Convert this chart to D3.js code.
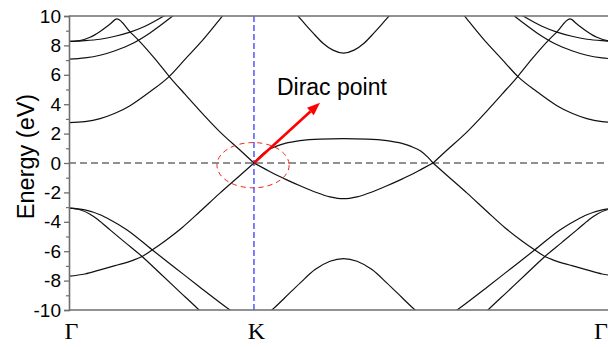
<!DOCTYPE html>
<html>
<head>
<meta charset="utf-8">
<script src="https://cdn.jsdelivr.net/npm/d3@7"></script>
<style>
  html, body { margin: 0; padding: 0; background: #fff; }
  svg { display: block; }
</style>
</head>
<body>
<svg id="chart" width="608" height="347"></svg>
<script>
// High-symmetry points along the k-path (distance Γ–K taken as 1)
const kPointLabels = ["Γ", "K", "Γ"];
const kPointPositions = [0, 1, 2.968];

// Energy axis ticks (eV)
const energyMajorTicks = [-10, -8, -6, -4, -2, 0, 2, 4, 6, 8, 10];
const energyMinorTicks = [-9, -7, -5, -3, -1, 1, 3, 5, 7, 9];

// Band branches as [k, E(eV)] pairs
const bandLowerLeft = [[0,-7.70],[0.086,-7.55],[0.168,-7.27],[0.249,-6.98],[0.346,-6.62],[0.395,-6.36],[0.449,-5.92],[0.519,-5.30],[0.611,-4.40],[0.708,-3.30],[0.816,-2.05],[0.924,-0.85],[1,0]];
const bandLowerRight = [[1.968,0],[2.044,-0.85],[2.152,-2.05],[2.260,-3.30],[2.357,-4.40],[2.449,-5.30],[2.519,-5.92],[2.573,-6.36],[2.622,-6.62],[2.719,-6.98],[2.800,-7.27],[2.882,-7.55],[2.968,-7.70]];

const bandPeakLeft = [[0,8.27],[0.059,8.33],[0.114,8.55],[0.168,8.95],[0.222,9.45],[0.259,9.80],[0.330,8.92],[0.384,8.24],[0.465,7.08],[0.541,5.90],[0.627,4.68],[0.708,3.55],[0.762,2.82],[0.816,2.12],[0.924,0.88],[1,0]];
const bandPeakRight = [[1.968,0],[2.044,0.88],[2.152,2.12],[2.206,2.82],[2.260,3.55],[2.341,4.68],[2.427,5.90],[2.503,7.08],[2.584,8.24],[2.638,8.92],[2.709,9.80],[2.746,9.45],[2.800,8.95],[2.854,8.55],[2.909,8.33],[2.968,8.27]];

const bandTopA_Left = [[0,8.27],[0.086,8.32],[0.168,8.42],[0.249,8.62],[0.330,8.90],[0.411,9.30],[0.508,9.96],[0.546,10.25]];
const bandTopA_Right = [[2.422,10.25],[2.460,9.96],[2.557,9.30],[2.638,8.90],[2.719,8.62],[2.800,8.42],[2.882,8.32],[2.968,8.27]];

const bandTopB_Left = [[0,7.06],[0.086,7.15],[0.168,7.33],[0.249,7.64],[0.346,8.15],[0.438,8.85],[0.557,9.96],[0.589,10.28]];
const bandTopB_Right = [[2.379,10.28],[2.411,9.96],[2.530,8.85],[2.622,8.15],[2.719,7.64],[2.800,7.33],[2.882,7.15],[2.968,7.06]];

const bandMid_Left = [[0,2.75],[0.086,2.82],[0.168,3.02],[0.249,3.38],[0.330,3.90],[0.438,4.85],[0.541,5.88],[0.627,7.05],[0.708,8.15],[0.827,9.96],[0.859,10.45]];
const bandMid_Right = [[2.109,10.45],[2.141,9.96],[2.260,8.15],[2.341,7.05],[2.427,5.88],[2.530,4.85],[2.638,3.90],[2.719,3.38],[2.800,3.02],[2.882,2.82],[2.968,2.75]];

const bandDeepA_Left = [[0,-3.07],[0.059,-3.18],[0.114,-3.48],[0.157,-3.86],[0.222,-4.55],[0.303,-5.40],[0.395,-6.36],[0.492,-7.50],[0.600,-8.78],[0.703,-10.0],[0.735,-10.4]];
const bandDeepA_Right = [[2.233,-10.4],[2.265,-10.0],[2.368,-8.78],[2.476,-7.50],[2.573,-6.36],[2.665,-5.40],[2.746,-4.55],[2.811,-3.86],[2.854,-3.48],[2.909,-3.18],[2.968,-3.07]];

const bandDeepB_Left = [[0,-3.07],[0.086,-3.19],[0.168,-3.52],[0.222,-3.86],[0.314,-4.55],[0.449,-5.90],[0.573,-7.12],[0.708,-8.45],[0.870,-10.0],[0.903,-10.3]];
const bandDeepB_Right = [[2.065,-10.3],[2.098,-10.0],[2.260,-8.45],[2.395,-7.12],[2.519,-5.90],[2.654,-4.55],[2.746,-3.86],[2.800,-3.52],[2.882,-3.19],[2.968,-3.07]];

const bandPlateauUpper = [[1,0],[1.027,0.38],[1.065,0.80],[1.119,1.13],[1.168,1.33],[1.249,1.52],[1.357,1.63],[1.484,1.66],[1.611,1.63],[1.719,1.52],[1.800,1.33],[1.849,1.13],[1.903,0.80],[1.941,0.38],[1.968,0]];
const bandPlateauLower = [[1,0],[1.059,-0.40],[1.119,-0.80],[1.195,-1.25],[1.249,-1.55],[1.330,-1.97],[1.411,-2.30],[1.484,-2.43],[1.557,-2.30],[1.638,-1.97],[1.719,-1.55],[1.773,-1.25],[1.849,-0.80],[1.909,-0.40],[1.968,0]];

const bandArch = [[1.205,10.45],[1.238,10.0],[1.276,9.45],[1.319,8.85],[1.373,8.15],[1.427,7.68],[1.484,7.48],[1.541,7.68],[1.595,8.15],[1.649,8.85],[1.692,9.45],[1.730,10.0],[1.763,10.45]];
const bandHump = [[1.054,-10.45],[1.097,-10.0],[1.168,-9.15],[1.249,-8.17],[1.330,-7.25],[1.411,-6.68],[1.484,-6.50],[1.557,-6.68],[1.638,-7.25],[1.719,-8.17],[1.800,-9.15],[1.871,-10.0],[1.914,-10.45]];

const bandBranches = [
  bandLowerLeft, bandLowerRight, bandPeakLeft, bandPeakRight,
  bandTopA_Left, bandTopA_Right, bandTopB_Left, bandTopB_Right,
  bandMid_Left, bandMid_Right, bandDeepA_Left, bandDeepA_Right,
  bandDeepB_Left, bandDeepB_Right, bandPlateauUpper, bandPlateauLower,
  bandArch, bandHump
];

// Annotation: Dirac point at K, arrow and highlight ellipse (data units)
const diracPoint = [1, 0];
const arrowTip = [1.357, 4.1];
const annotationText = "Dirac point";
const annotationAnchor = [1.124, 4.64];
const ellipseCenter = [0.995, -0.15];
const ellipseRadii = [0.195, 1.54];

// ---- drawing ----
const W = 608, H = 347;
const svg = d3.select("#chart");

const x = d3.scaleLinear().domain([0, 2.968]).range([69, 618]);
const y = d3.scaleLinear().domain([-10, 10]).range([310, 16]);

svg.append("rect").attr("width", W).attr("height", H).attr("fill", "#fff");

svg.append("defs").append("clipPath").attr("id", "plotClip")
  .append("rect")
  .attr("x", x(0)).attr("y", y(10))
  .attr("width", x(2.968) - x(0)).attr("height", y(-10) - y(10));

const plot = svg.append("g").attr("clip-path", "url(#plotClip)");

// Fermi level
plot.append("line")
  .attr("x1", x(0)).attr("x2", x(2.968))
  .attr("y1", y(0)).attr("y2", y(0))
  .attr("stroke", "#222").attr("stroke-width", 1)
  .attr("stroke-dasharray", "7,4");

// K point marker
plot.append("line")
  .attr("x1", x(kPointPositions[1])).attr("x2", x(kPointPositions[1]))
  .attr("y1", y(10)).attr("y2", y(-10))
  .attr("stroke", "#2a2aff").attr("stroke-width", 1.2)
  .attr("stroke-dasharray", "6,3");

// Bands
const line = d3.line()
  .x(d => x(d[0]))
  .y(d => y(d[1]))
  .curve(d3.curveMonotoneX);

plot.selectAll("path.band")
  .data(bandBranches)
  .join("path")
  .attr("class", "band")
  .attr("d", line)
  .attr("fill", "none")
  .attr("stroke", "#111")
  .attr("stroke-width", 1.2);

// Highlight ellipse around the Dirac point
plot.append("ellipse")
  .attr("cx", x(ellipseCenter[0])).attr("cy", y(ellipseCenter[1]))
  .attr("rx", x(ellipseRadii[0]) - x(0))
  .attr("ry", y(0) - y(ellipseRadii[1]))
  .attr("fill", "none")
  .attr("stroke", "#f02020").attr("stroke-width", 1)
  .attr("stroke-dasharray", "5,4");

// Arrow
const ax0 = x(diracPoint[0]), ay0 = y(diracPoint[1]);
const ax1 = x(arrowTip[0]), ay1 = y(arrowTip[1]);
const ang = Math.atan2(ay1 - ay0, ax1 - ax0);
const headLen = 13, headHalf = 5;
const bx = ax1 - headLen * Math.cos(ang), by = ay1 - headLen * Math.sin(ang);
svg.append("line")
  .attr("x1", ax0).attr("y1", ay0).attr("x2", bx).attr("y2", by)
  .attr("stroke", "#ff0000").attr("stroke-width", 2.6);
svg.append("path")
  .attr("d", `M${ax1},${ay1} L${bx + headHalf * Math.sin(ang)},${by - headHalf * Math.cos(ang)} L${bx - headHalf * Math.sin(ang)},${by + headHalf * Math.cos(ang)} Z`)
  .attr("fill", "#ff0000");

svg.append("text")
  .attr("x", x(annotationAnchor[0])).attr("y", y(annotationAnchor[1]))
  .attr("font-family", "Liberation Sans, Arial, sans-serif")
  .attr("font-size", 23)
  .attr("fill", "#000")
  .text(annotationText);

// Frame lines
const frameColor = "#6e6e6e";
svg.append("line")
  .attr("x1", x(0)).attr("x2", W).attr("y1", y(10)).attr("y2", y(10))
  .attr("stroke", frameColor).attr("stroke-width", 1.6);
svg.append("line")
  .attr("x1", x(0)).attr("x2", W).attr("y1", y(-10)).attr("y2", y(-10))
  .attr("stroke", frameColor).attr("stroke-width", 1.6);

// Y axis
const yAxis = svg.append("g").attr("transform", `translate(${x(0)},0)`)
  .call(d3.axisLeft(y).tickValues(energyMajorTicks).tickSize(5).tickPadding(3).tickFormat(d => String(d)));
yAxis.select(".domain").attr("stroke", frameColor).attr("stroke-width", 1.6);
yAxis.selectAll(".tick line").attr("stroke", frameColor).attr("stroke-width", 1.3);
yAxis.selectAll(".tick text")
  .attr("font-family", "Liberation Sans, Arial, sans-serif")
  .attr("font-size", 19).attr("fill", "#000");

const yMinor = svg.append("g").attr("transform", `translate(${x(0)},0)`)
  .call(d3.axisLeft(y).tickValues(energyMinorTicks).tickSize(3).tickFormat(""));
yMinor.select(".domain").remove();
yMinor.selectAll(".tick line").attr("stroke", frameColor).attr("stroke-width", 1.2);

// Y axis title
svg.append("text")
  .attr("transform", `translate(33.5,156.5) rotate(-90)`)
  .attr("text-anchor", "middle")
  .attr("font-family", "Liberation Sans, Arial, sans-serif")
  .attr("font-size", 23.5)
  .attr("fill", "#000")
  .text("Energy (eV)");

// k-path labels
svg.selectAll("text.kpt")
  .data(kPointLabels)
  .join("text")
  .attr("class", "kpt")
  .attr("x", (d, i) => Math.min(x(kPointPositions[i]) + 2.5, W - 7))
  .attr("y", 339)
  .attr("text-anchor", "middle")
  .attr("font-family", "Liberation Serif, Times New Roman, serif")
  .attr("font-size", 24)
  .attr("fill", "#000")
  .text(d => d);
</script>
</body>
</html>
